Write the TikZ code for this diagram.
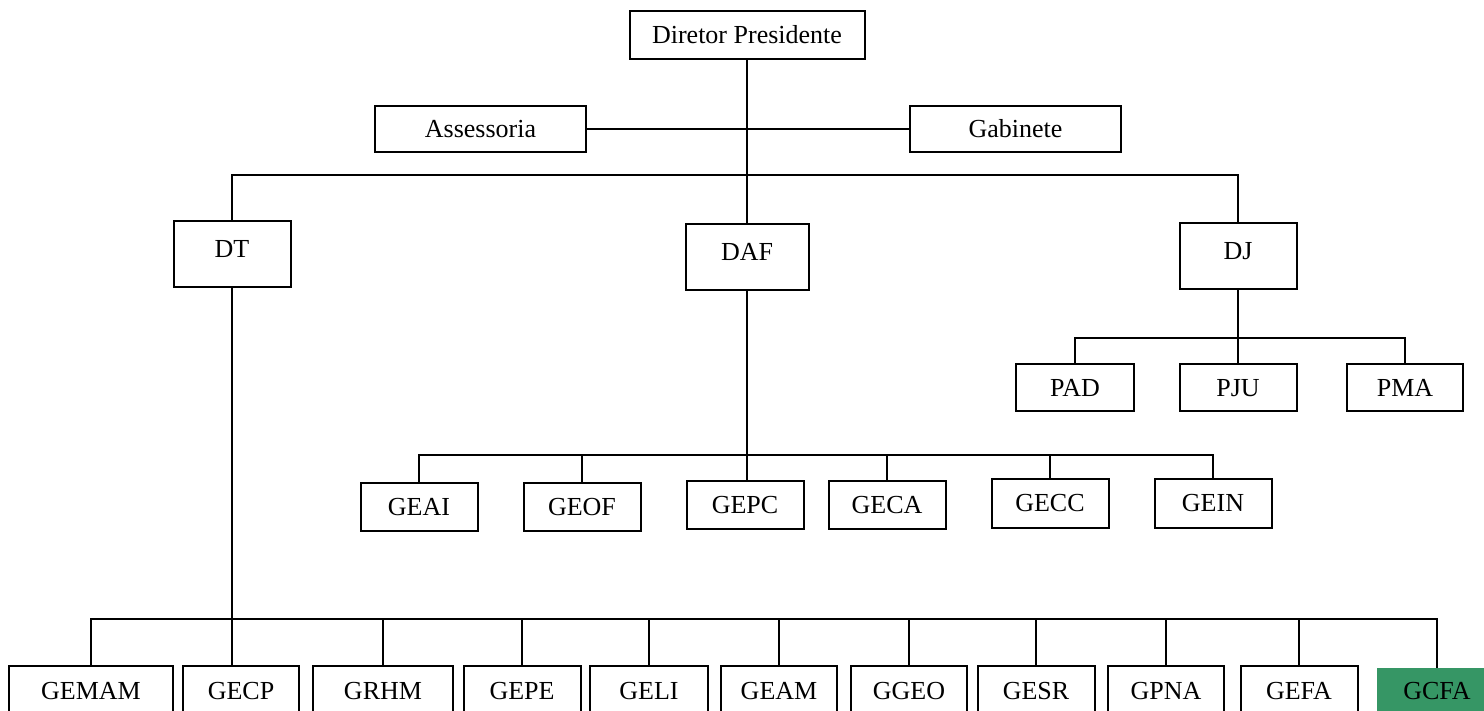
\documentclass[tikz,border=0pt]{standalone}
\usepackage{fontspec}
\setmainfont{Liberation Serif}
\definecolor{unitgreen}{RGB}{54,150,101}
\tikzset{
  box/.style={draw, line width=2pt, inner sep=0pt, rectangle,
    font=\fontsize{26}{30}\selectfont, text height=17pt, text depth=0pt},
  raised/.style={text depth=10pt},
  link/.style={line width=2pt, line cap=rect},
}
\begin{document}
\begin{tikzpicture}[x=1pt,y=-1pt]
\useasboundingbox (0,0) rectangle (1484,710);
\clip (0,0) rectangle (1484,710);

% top of the organisation
\node[box, minimum width=235pt, minimum height=48pt] (dp) at (747,35) {Diretor Presidente};
\node[box, minimum width=211pt, minimum height=46pt] (ass) at (480.5,129) {Assessoria};
\node[box, minimum width=211pt, minimum height=46pt] (gab) at (1015.5,129) {Gabinete};

% directorates
\node[box, raised, minimum width=117pt, minimum height=66pt] (dt)  at (232,254) {DT};
\node[box, raised, minimum width=123pt, minimum height=66pt] (daf) at (747,257) {DAF};
\node[box, raised, minimum width=117pt, minimum height=66pt] (dj)  at (1238,256) {DJ};

% units under DJ
\node[box, minimum width=118pt, minimum height=47pt] (pad) at (1075,387.5) {PAD};
\node[box, minimum width=117pt, minimum height=47pt] (pju) at (1238,387.5) {PJU};
\node[box, minimum width=116pt, minimum height=47pt] (pma) at (1405,387.5) {PMA};

% units under DAF
\node[box, minimum width=117pt, minimum height=48pt] (geai) at (419,507) {GEAI};
\node[box, minimum width=117pt, minimum height=48pt] (geof) at (582,507) {GEOF};
\node[box, minimum width=117pt, minimum height=48pt] (gepc) at (745,504.5) {GEPC};
\node[box, minimum width=117pt, minimum height=48pt] (geca) at (887,504.5) {GECA};
\node[box, minimum width=117pt, minimum height=49pt] (gecc) at (1050,503) {GECC};
\node[box, minimum width=117pt, minimum height=49pt] (gein) at (1213,503) {GEIN};

% units under DT
\node[box, minimum width=164pt, minimum height=50pt] (gemam) at (91,691) {GEMAM};
\node[box, minimum width=116pt, minimum height=50pt] (gecp)  at (241,691) {GECP};
\node[box, minimum width=140pt, minimum height=50pt] (grhm)  at (383,691) {GRHM};
\node[box, minimum width=117pt, minimum height=50pt] (gepe)  at (522,691) {GEPE};
\node[box, minimum width=118pt, minimum height=50pt] (geli)  at (649,691) {GELI};
\node[box, minimum width=116pt, minimum height=50pt] (geam)  at (779,691) {GEAM};
\node[box, minimum width=116pt, minimum height=50pt] (ggeo)  at (909,691) {GGEO};
\node[box, minimum width=117pt, minimum height=50pt] (gesr)  at (1036,691) {GESR};
\node[box, minimum width=116pt, minimum height=50pt] (gpna)  at (1166,691) {GPNA};
\node[box, minimum width=117pt, minimum height=50pt] (gefa)  at (1299,691) {GEFA};
\node[box, draw=none, fill=unitgreen, minimum width=120pt, minimum height=46pt] (gcfa) at (1437,691) {GCFA};

% bus lines
\coordinate (lvl) at (747,175);
\coordinate (djbus) at (1238,338);
\coordinate (dafbus) at (747,455);
\coordinate (dtbus) at (232,619);

% president to staff and to DAF
\draw[link] (dp.south) -- (daf.north);
\draw[link] (ass.east) -- (gab.west);

% president to directorates
\draw[link] (dt.north) -- (dt.north |- lvl) -- (dj.north |- lvl) -- (dj.north);

% DJ branch
\draw[link] (dj.south) -- (pju.north);
\draw[link] (pad.north) -- (pad.north |- djbus) -- (pma.north |- djbus) -- (pma.north);

% DAF branch
\draw[link] (daf.south) -- (daf.south |- gepc.north);
\draw[link] (geai.north) -- (geai.north |- dafbus) -- (gein.north |- dafbus) -- (gein.north);
\foreach \n in {geof,geca,gecc}
  \draw[link] (\n.north) -- (\n.north |- dafbus);

% DT branch
\draw[link] (dt.south) -- (dt.south |- gecp.north);
\draw[link] (gemam.north) -- (gemam.north |- dtbus) -- (gcfa.north |- dtbus) -- (gcfa.north);
\foreach \n in {grhm,gepe,geli,geam,ggeo,gesr,gpna,gefa}
  \draw[link] (\n.north) -- (\n.north |- dtbus);
\end{tikzpicture}
\end{document}
